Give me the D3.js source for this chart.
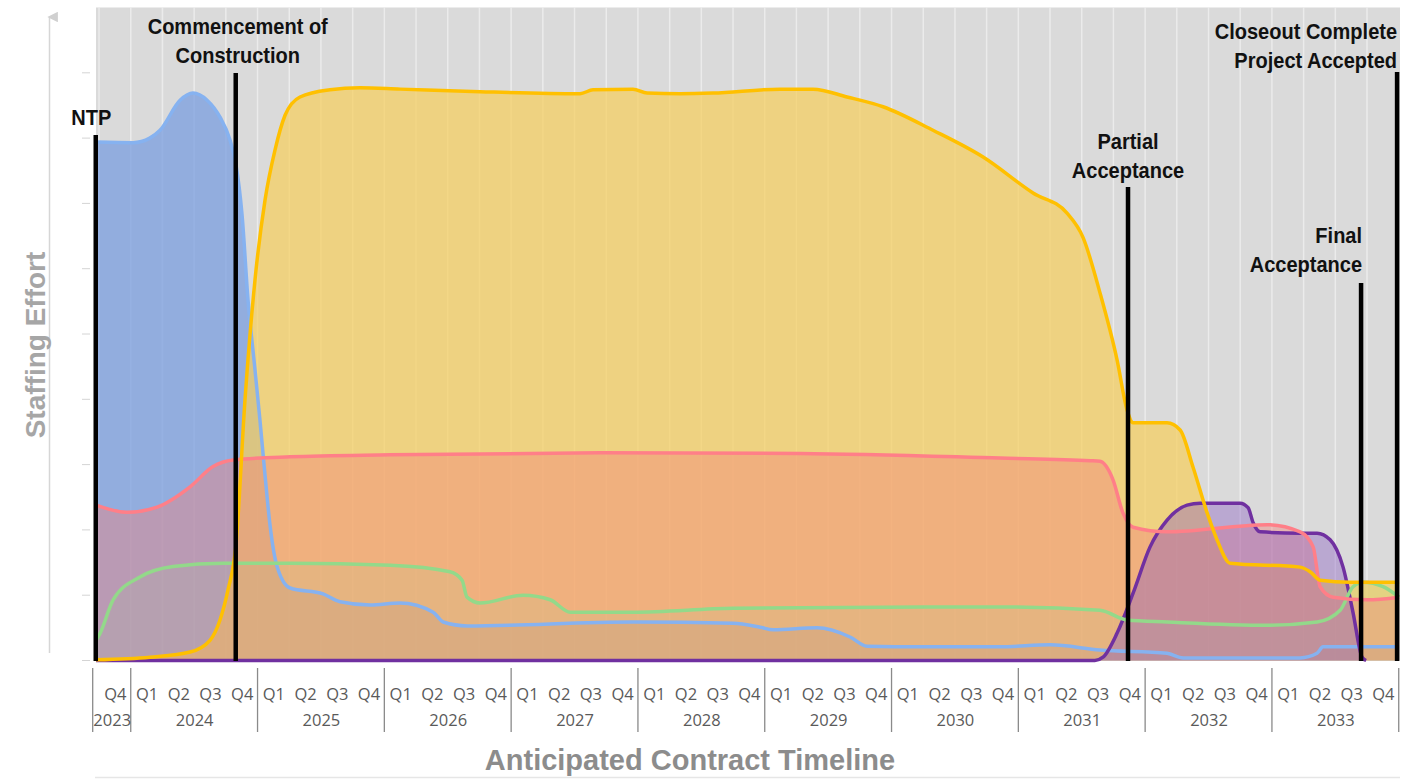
<!DOCTYPE html>
<html>
<head>
<meta charset="utf-8">
<script src="https://cdn.jsdelivr.net/npm/d3@7/dist/d3.min.js"></script>
<style>
  html, body { margin: 0; padding: 0; background: #ffffff; }
  svg { display: block; }
</style>
</head>
<body>
<svg id="chart" width="1414" height="780"></svg>
<script>
// Staffing effort by discipline over the contract timeline (x = decimal year, y = relative effort)
const blueSeries = [
  [2023.726, 7.94], [2024.018, 7.93], [2024.150, 8.00], [2024.231, 8.12], [2024.389, 8.58],
  [2024.491, 8.69], [2024.602, 8.58], [2024.704, 8.32], [2024.783, 7.97], [2024.830, 7.59],
  [2024.878, 6.82], [2024.925, 5.52], [2024.980, 4.45], [2025.019, 3.68], [2025.059, 2.84],
  [2025.098, 2.08], [2025.154, 1.44], [2025.257, 1.11], [2025.517, 1.02], [2025.651, 0.90],
  [2025.888, 0.85], [2026.124, 0.88], [2026.385, 0.74], [2026.464, 0.59], [2026.653, 0.53],
  [2027.962, 0.59], [2028.751, 0.57], [2028.964, 0.51], [2029.067, 0.47], [2029.413, 0.50],
  [2029.673, 0.36], [2029.807, 0.22], [2030.249, 0.21], [2030.857, 0.21], [2031.251, 0.24],
  [2031.644, 0.16], [2032.173, 0.11], [2032.300, 0.04], [2033.222, 0.04], [2033.356, 0.11],
  [2033.403, 0.21], [2034.003, 0.21]
];
const yellowSeries = [
  [2023.726, 0.01], [2024.152, 0.05], [2024.468, 0.13], [2024.625, 0.31], [2024.704, 0.62],
  [2024.767, 1.08], [2024.830, 1.77], [2024.901, 3.99], [2024.980, 5.83], [2025.059, 7.05],
  [2025.138, 7.82], [2025.217, 8.35], [2025.335, 8.63], [2025.572, 8.74], [2025.808, 8.77],
  [2026.124, 8.75], [2026.755, 8.71], [2027.543, 8.68], [2027.646, 8.74], [2027.961, 8.75],
  [2028.072, 8.69], [2028.332, 8.68], [2028.592, 8.69], [2029.121, 8.75], [2029.381, 8.75],
  [2029.649, 8.63], [2029.933, 8.48], [2030.327, 8.12], [2030.722, 7.71], [2031.116, 7.16],
  [2031.384, 6.85], [2031.510, 6.48], [2031.644, 5.63], [2031.779, 4.60], [2031.857, 3.84],
  [2031.905, 3.64], [2032.173, 3.64], [2032.276, 3.53], [2032.378, 2.96], [2032.489, 2.26],
  [2032.567, 1.85], [2032.670, 1.49], [2033.222, 1.43], [2033.301, 1.36], [2033.380, 1.23],
  [2033.617, 1.20], [2034.003, 1.20]
];
const pinkSeries = [
  [2023.726, 2.38], [2023.971, 2.27], [2024.208, 2.35], [2024.468, 2.66], [2024.649, 2.97],
  [2024.807, 3.07], [2025.257, 3.12], [2026.046, 3.15], [2027.702, 3.18], [2029.280, 3.17],
  [2030.857, 3.10], [2031.567, 3.06], [2031.644, 3.05], [2031.746, 2.77], [2031.825, 2.26],
  [2031.905, 2.04], [2032.173, 1.97], [2032.962, 2.08], [2033.222, 1.97], [2033.325, 1.74],
  [2033.380, 1.13], [2033.483, 0.97], [2033.751, 0.93], [2034.003, 0.97]
];
const greenSeries = [
  [2023.726, 0.31], [2023.759, 0.42], [2023.861, 0.93], [2024.073, 1.28], [2024.333, 1.44],
  [2024.728, 1.49], [2025.257, 1.49], [2026.046, 1.46], [2026.518, 1.36], [2026.613, 1.23],
  [2026.652, 0.97], [2026.755, 0.88], [2027.095, 1.00], [2027.308, 0.93], [2027.466, 0.74],
  [2027.962, 0.74], [2028.751, 0.80], [2030.250, 0.82], [2030.857, 0.82], [2031.644, 0.77],
  [2031.857, 0.62], [2032.173, 0.59], [2032.962, 0.54], [2033.356, 0.59], [2033.538, 0.77],
  [2033.640, 1.13], [2033.719, 1.20], [2033.877, 1.13], [2034.003, 0.97]
];
const purpleSeries = [
  [2023.726, 0.00], [2031.604, 0.00], [2031.668, 0.05], [2031.779, 0.42], [2031.905, 1.03],
  [2032.039, 1.74], [2032.173, 2.15], [2032.331, 2.38], [2032.434, 2.41], [2032.749, 2.41],
  [2032.812, 2.34], [2032.852, 2.11], [2032.907, 1.97], [2033.222, 1.95], [2033.356, 1.95],
  [2033.459, 1.85], [2033.561, 1.43], [2033.640, 0.73], [2033.711, 0.05], [2033.743, 0.00]
];

// Milestones on the timeline
const milestoneDates = [2023.724, 2024.828, 2031.865, 2033.703, 2033.987];
const milestoneLabels = [
  ["NTP"],
  ["Commencement of", "Construction"],
  ["Partial", "Acceptance"],
  ["Final", "Acceptance"],
  ["Closeout Complete", "Project Accepted"]
];

// Category axis labels
const years = [2023, 2024, 2025, 2026, 2027, 2028, 2029, 2030, 2031, 2032, 2033];
const quarterNames = ["Q1", "Q2", "Q3", "Q4"];
const yTicks = [0, 1, 2, 3, 4, 5, 6, 7, 8, 9];

const svg = d3.select("#chart");
const plot = { left: 96, right: 1400, top: 7.5, bottom: 660.5 };
const axisStart = 2023.70;

const x = d3.scaleLinear().domain([2023.726, 2034.01]).range([plot.left, plot.right]);
const y = d3.scaleLinear().domain([0, 10]).range([plot.bottom, plot.top]);

// Plot background
svg.append("rect")
  .attr("x", plot.left).attr("y", plot.top)
  .attr("width", plot.right - plot.left).attr("height", plot.bottom - plot.top)
  .attr("fill", "#dadada");

// Quarter gridlines
const quarterBounds = d3.range(2023.75, 2034.0, 0.25);
svg.append("g").selectAll("line").data(quarterBounds).join("line")
  .attr("x1", d => x(d)).attr("x2", d => x(d))
  .attr("y1", plot.top).attr("y2", plot.bottom)
  .attr("stroke", "#f2f2f2").attr("stroke-opacity", 0.7).attr("stroke-width", 1.5);

// Faint value ticks on the left
svg.append("g").selectAll("line").data(yTicks).join("line")
  .attr("x1", 82).attr("x2", 90)
  .attr("y1", d => y(d)).attr("y2", d => y(d))
  .attr("stroke", "#d4d4d4").attr("stroke-width", 1);

// Vertical effort arrow
const defs = svg.append("defs");
defs.append("marker")
  .attr("id", "arrowhead").attr("viewBox", "0 0 10 10")
  .attr("refX", 5).attr("refY", 2).attr("markerWidth", 7).attr("markerHeight", 7)
  .attr("orient", "auto-start-reverse")
  .append("path").attr("d", "M0,10 L5,0 L10,10 Z").attr("fill", "#d0d0d0");
svg.append("line")
  .attr("x1", 49.5).attr("x2", 49.5).attr("y1", 653).attr("y2", 17)
  .attr("stroke", "#d6d6d6").attr("stroke-width", 1.5)
  .attr("marker-end", "url(#arrowhead)");

const series = [
  { data: blueSeries,   fill: "#7c9fe0", fillOpacity: 0.76, stroke: "#86b2f0" },
  { data: yellowSeries, fill: "#f5cf5e", fillOpacity: 0.72, stroke: "#ffc000" },
  { data: pinkSeries,   fill: "#f2807a", fillOpacity: 0.42, stroke: "#ff7f88" },
  { data: greenSeries,  fill: "#90d890", fillOpacity: 0.10, stroke: "#93d98a" },
  { data: purpleSeries, fill: "#8a5cc4", fillOpacity: 0.40, stroke: "#7030a0" }
];

const area = d3.area().curve(d3.curveMonotoneX)
  .x(d => x(d[0])).y0(y(0)).y1(d => y(d[1]));
const line = d3.line().curve(d3.curveMonotoneX)
  .x(d => x(d[0])).y(d => y(d[1]));

const areas = svg.append("g");
series.forEach(s => {
  areas.append("path").attr("d", area(s.data))
    .attr("fill", s.fill).attr("fill-opacity", s.fillOpacity);
});

const lines = svg.append("g");
[series[0], series[4], series[3], series[2], series[1]].forEach(s => {
  lines.append("path").attr("d", line(s.data))
    .attr("fill", "none").attr("stroke", s.stroke)
    .attr("stroke-width", 3.5).attr("stroke-linejoin", "round");
});

// Milestone markers and labels (condensed bold lettering)
const milestoneLayout = [
  { top: 135, anchor: "middle", dx: -4.5, gap: 10 },
  { top: 73,  anchor: "middle", dx: 2,    gap: 10 },
  { top: 187, anchor: "middle", dx: 0,    gap: 9 },
  { top: 283, anchor: "end",    dx: 1,    gap: 11 },
  { top: 72,  anchor: "end",    dx: 0,    gap: 4 }
];
const ms = svg.append("g");
milestoneDates.forEach((d, i) => {
  const L = milestoneLayout[i];
  ms.append("line")
    .attr("x1", x(d)).attr("x2", x(d))
    .attr("y1", L.top).attr("y2", plot.bottom + 0.5)
    .attr("stroke", "#000").attr("stroke-width", 4.5);
  const lbl = milestoneLabels[i];
  lbl.forEach((s, k) => {
    ms.append("g")
      .attr("transform", `translate(${x(d) + L.dx},${L.top - L.gap - (lbl.length - 1 - k) * 29.5}) scale(0.89,1)`)
      .append("text")
      .attr("text-anchor", L.anchor)
      .attr("font-family", "'Liberation Sans', Arial, sans-serif")
      .attr("font-weight", "bold").attr("font-size", 22.5).attr("fill", "#111")
      .text(s);
  });
});

// Two-level category axis: quarters and years
const axisG = svg.append("g");
const cellStarts = years.map(yr => Math.max(yr, axisStart));
const yearCenters = years.map((yr, i) => (cellStarts[i] + yr + 1) / 2);
const boundaries = [axisStart].concat(years.map(yr => yr + 1));
axisG.selectAll("line.div").data(boundaries).join("line")
  .attr("class", "div")
  .attr("x1", d => x(d)).attr("x2", d => x(d))
  .attr("y1", 668).attr("y2", 732)
  .attr("stroke", "#8a8a8a").attr("stroke-width", 1.3);

const quarterTicks = [];
years.forEach(yr => {
  quarterNames.forEach((q, qi) => {
    const start = yr + qi * 0.25;
    if (start + 0.125 < axisStart) return;
    const lo = Math.max(start, axisStart);
    quarterTicks.push({ pos: (lo + start + 0.25) / 2, label: q });
  });
});

const qAxis = d3.axisBottom(x)
  .tickValues(quarterTicks.map(d => d.pos))
  .tickFormat((d, i) => quarterTicks[i].label)
  .tickSize(0).tickPadding(0);
const qG = axisG.append("g").attr("transform", "translate(0,700)").call(qAxis);
qG.select(".domain").remove();
qG.selectAll("text")
  .attr("dy", 0).attr("y", 0)
  .attr("font-family", "'Open Sans', sans-serif").attr("font-size", 16.5).attr("fill", "#5a5a5a");

const yAxis = d3.axisBottom(x)
  .tickValues(yearCenters)
  .tickFormat((d, i) => String(years[i]))
  .tickSize(0).tickPadding(0);
const yG = axisG.append("g").attr("transform", "translate(0,726)").call(yAxis);
yG.select(".domain").remove();
yG.selectAll("text")
  .attr("dy", 0).attr("y", 0)
  .attr("font-family", "'Open Sans', sans-serif").attr("font-size", 16.5).attr("fill", "#5a5a5a");

// Axis titles
svg.append("text")
  .attr("x", 690).attr("y", 770).attr("text-anchor", "middle")
  .attr("font-family", "'Liberation Sans', Arial, sans-serif").attr("font-weight", "bold")
  .attr("font-size", 29).attr("fill", "#8c8c8c")
  .text("Anticipated Contract Timeline");

svg.append("text")
  .attr("transform", "translate(45,345) rotate(-90)").attr("text-anchor", "middle")
  .attr("font-family", "'Liberation Sans', Arial, sans-serif").attr("font-weight", "bold")
  .attr("font-size", 28).attr("fill", "#a6a6a6")
  .text("Staffing Effort");

// Faint frame line beneath the chart
svg.append("line")
  .attr("x1", 95).attr("x2", 1400).attr("y1", 777.5).attr("y2", 777.5)
  .attr("stroke", "#e6e6e6").attr("stroke-width", 1.5);
</script>
</body>
</html>
